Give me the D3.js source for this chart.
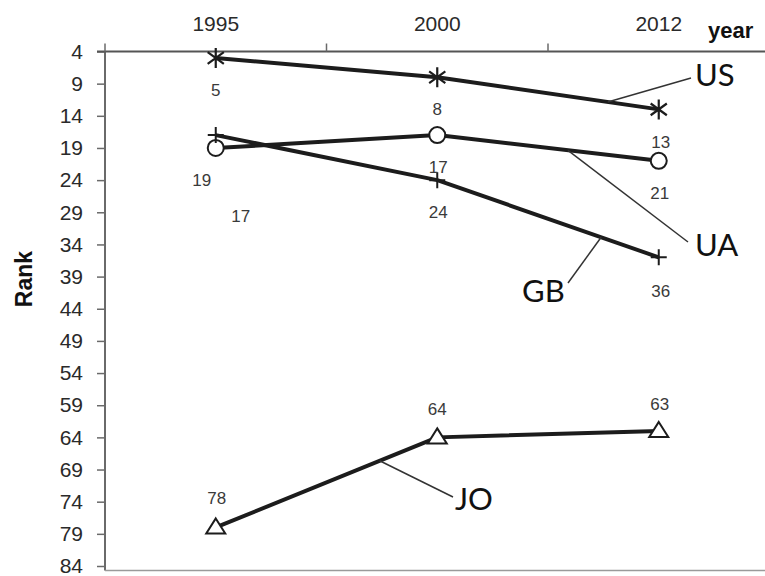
<!DOCTYPE html>
<html>
<head>
<meta charset="utf-8">
<script src="https://cdn.jsdelivr.net/npm/d3@7"></script>
<style>
  html, body { margin: 0; padding: 0; background: #fff; }
  svg { display: block; }
</style>
</head>
<body>
<script>
// ---------- data ----------
const years = ["1995", "2000", "2012"];
const rankTicks = [4, 9, 14, 19, 24, 29, 34, 39, 44, 49, 54, 59, 64, 69, 74, 79, 84];
const seriesNames = ["US", "UA", "GB", "JO"];
const usRank = [5, 8, 13];
const uaRank = [19, 17, 21];
const gbRank = [17, 24, 36];
const joRank = [78, 64, 63];
// value labels as printed in the figure (GB 1995 label sits apart)
const usLabels = ["5", "8", "13"];
const uaLabels = ["19", "17", "21"];
const gbLabels = ["17", "24", "36"];
const joLabels = ["78", "64", "63"];

// ---------- layout ----------
const W = 765, H = 576;
const svg = d3.select("body").append("svg").attr("width", W).attr("height", H);

const x = d3.scaleBand().domain(years).range([105, 769.5]).padding(0);
const cx = d => x(d) + x.bandwidth() / 2;
const y = d3.scaleLinear().domain([4, 84]).range([51.5, 566]);

const AXIS_COLOR = "#6a6a6a";
const TEXT_COLOR = "#2a2a2a";
const LINE_COLOR = "#1c1c1c";

// y axis
const yAxis = d3.axisLeft(y).tickValues(rankTicks).tickSize(8).tickPadding(14);
const gy = svg.append("g").attr("transform", "translate(105,0)").call(yAxis);
gy.select(".domain").remove();
gy.selectAll(".tick line").attr("stroke", AXIS_COLOR).attr("stroke-width", 1.5);
gy.selectAll(".tick text")
  .attr("fill", TEXT_COLOR)
  .style("font-family", "'Liberation Sans', Arial, sans-serif")
  .style("font-size", "21px");
svg.append("line")
  .attr("x1", 105).attr("x2", 105)
  .attr("y1", y(4)).attr("y2", y(84) + 4.5)
  .attr("stroke", AXIS_COLOR).attr("stroke-width", 2);
// bottom frame line
svg.append("line")
  .attr("x1", 105).attr("x2", W)
  .attr("y1", y(84) + 4.5).attr("y2", y(84) + 4.5)
  .attr("stroke", "#9a9a9a").attr("stroke-width", 1.5);

// top x axis
const xAxis = d3.axisTop(x).tickSize(0).tickPadding(21);
const gx = svg.append("g").attr("transform", `translate(0,${y(4)})`).call(xAxis);
gx.select(".domain").remove();
gx.selectAll(".tick text")
  .attr("fill", TEXT_COLOR)
  .style("font-family", "'Liberation Sans', Arial, sans-serif")
  .style("font-size", "21px");
svg.append("line")
  .attr("x1", 97).attr("x2", W)
  .attr("y1", y(4)).attr("y2", y(4))
  .attr("stroke", "#555").attr("stroke-width", 2);
// category boundary ticks
svg.selectAll(".xb").data(years).enter().append("line")
  .attr("x1", d => x(d)).attr("x2", d => x(d))
  .attr("y1", y(4) - 8).attr("y2", y(4))
  .attr("stroke", AXIS_COLOR).attr("stroke-width", 1.5);

// axis titles
svg.append("text")
  .attr("x", 708).attr("y", 38)
  .attr("fill", "#111")
  .style("font-family", "'Liberation Sans', Arial, sans-serif")
  .style("font-size", "22px").style("font-weight", "bold")
  .text("year");
svg.append("text")
  .attr("transform", "translate(32,279) rotate(-90)")
  .attr("text-anchor", "middle")
  .attr("fill", "#111")
  .style("font-family", "'Liberation Sans', Arial, sans-serif")
  .style("font-size", "23px").style("font-weight", "bold")
  .text("Rank");

// ---------- series ----------
const series = [
  { name: "US", values: usRank, labels: usLabels, marker: "star",
    labelOff: [[0, 38], [0, 38], [2, 39]] },
  { name: "UA", values: uaRank, labels: uaLabels, marker: "circle",
    labelOff: [[-14, 38], [1, 38], [1, 38]] },
  { name: "GB", values: gbRank, labels: gbLabels, marker: "plus",
    labelOff: [[25, 87], [1, 38], [2, 40]] },
  { name: "JO", values: joRank, labels: joLabels, marker: "triangle",
    labelOff: [[1, -23], [0, -22], [1, -21]] }
];

const line = d3.line().x((d, i) => cx(years[i])).y(d => y(d));

series.forEach(s => {
  svg.append("path")
    .attr("d", line(s.values))
    .attr("fill", "none")
    .attr("stroke", LINE_COLOR)
    .attr("stroke-width", 4)
    .attr("stroke-linejoin", "round");
});

// markers
series.forEach(s => {
  const g = svg.append("g");
  s.values.forEach((v, i) => {
    const px = cx(years[i]), py = y(v);
    if (s.marker === "star") {
      const r = 10;
      const a = r * Math.cos(Math.PI / 5), b = r * Math.sin(Math.PI / 5);
      const p = d3.path();
      p.moveTo(px, py - r); p.lineTo(px, py + r);
      p.moveTo(px - a, py - b); p.lineTo(px + a, py + b);
      p.moveTo(px - a, py + b); p.lineTo(px + a, py - b);
      g.append("path").attr("d", p.toString())
        .attr("stroke", LINE_COLOR).attr("stroke-width", 2.2).attr("fill", "none");
    } else if (s.marker === "circle") {
      g.append("circle").attr("cx", px).attr("cy", py).attr("r", 8)
        .attr("fill", "#fff").attr("stroke", LINE_COLOR).attr("stroke-width", 2);
    } else if (s.marker === "plus") {
      const p = d3.path();
      p.moveTo(px - 8, py); p.lineTo(px + 8, py);
      p.moveTo(px, py - 8); p.lineTo(px, py + 8);
      g.append("path").attr("d", p.toString())
        .attr("stroke", LINE_COLOR).attr("stroke-width", 2).attr("fill", "none");
    } else if (s.marker === "triangle") {
      const p = d3.path();
      p.moveTo(px, py - 9); p.lineTo(px + 9.5, py + 6); p.lineTo(px - 9.5, py + 6); p.closePath();
      g.append("path").attr("d", p.toString())
        .attr("stroke", LINE_COLOR).attr("stroke-width", 2).attr("fill", "#fff");
    }
  });
});

// value labels
series.forEach(s => {
  s.values.forEach((v, i) => {
    svg.append("text")
      .attr("x", cx(years[i]) + s.labelOff[i][0])
      .attr("y", y(v) + s.labelOff[i][1])
      .attr("text-anchor", "middle")
      .attr("fill", "#3a3a3a")
      .style("font-family", "'Liberation Sans', Arial, sans-serif")
      .style("font-size", "17px")
      .text(s.labels[i]);
  });
});

// callout names with leader lines
const callouts = [
  { name: "US", seg: 1, t: 0.77, end: [691, 78], text: [695, 86], anchor: "start" },
  { name: "UA", seg: 1, t: 0.59, end: [688, 242], text: [695, 256], anchor: "start" },
  { name: "GB", seg: 1, t: 0.74, end: [568, 283], text: [522, 302], anchor: "start" },
  { name: "JO", seg: 0, t: 0.74, end: [453, 497], text: [455, 510], anchor: "start" }
];
callouts.forEach(c => {
  const s = series.find(d => d.name === c.name);
  const x0 = cx(years[c.seg]), x1 = cx(years[c.seg + 1]);
  const y0 = y(s.values[c.seg]), y1 = y(s.values[c.seg + 1]);
  const sx = x0 + c.t * (x1 - x0), sy = y0 + c.t * (y1 - y0);
  svg.append("line")
    .attr("x1", sx).attr("y1", sy)
    .attr("x2", c.end[0]).attr("y2", c.end[1])
    .attr("stroke", "#333").attr("stroke-width", 1.5);
  svg.append("text")
    .attr("x", c.text[0]).attr("y", c.text[1])
    .attr("text-anchor", c.anchor)
    .attr("fill", "#111")
    .style("font-family", "Lato, 'Open Sans', sans-serif")
    .style("font-size", "31px")
    .text(c.name);
});
</script>
</body>
</html>
